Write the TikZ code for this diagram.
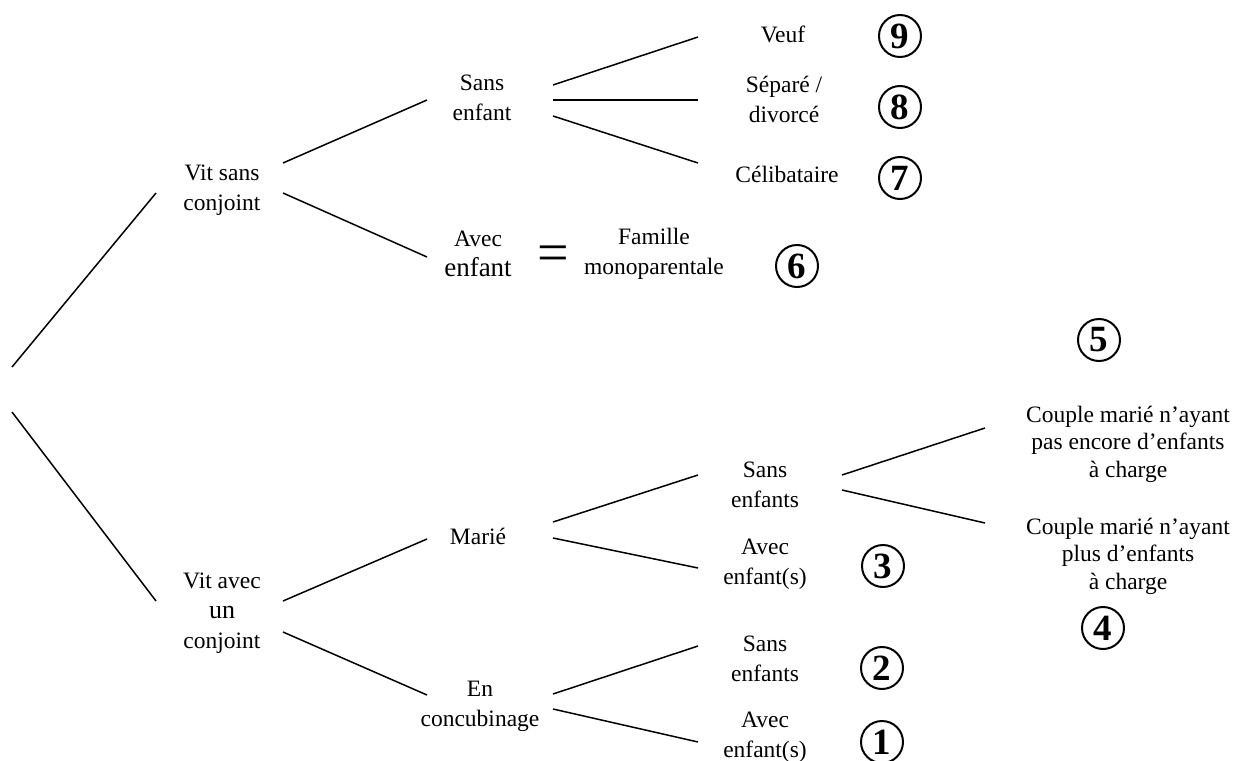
\documentclass[tikz,border=0pt]{standalone}
\usepackage{fontspec}
\setmainfont{Liberation Serif}
\begin{document}
\begin{tikzpicture}[x=1pt,y=-1pt,
  conn/.style={line width=1.5pt},
  lbl/.style={align=center, font=\fontsize{23.5}{30}\selectfont, inner sep=0pt},
  couple/.style={align=center, font=\fontsize{23.5}{27.5}\selectfont, inner sep=0pt},
  num/.style={circle, draw, line width=2pt, minimum size=42pt, inner sep=0pt, font=\fontsize{37}{37}\selectfont\bfseries}]
\useasboundingbox (0,0) rectangle (1236,760);
\fill[white] (0,0) rectangle (1236,760);

% ---- text nodes ----
\node[lbl] (vsc) at (222,190) {Vit sans\\conjoint};
\node[lbl] (vac) at (222,613) {Vit avec\\{\fontsize{26}{30}\selectfont un}\\conjoint};

\node[lbl] (se) at (482,98) {Sans\\enfant};
\node[lbl] (ae) at (478,254) {Avec\\{\fontsize{27}{30}\selectfont enfant}};
\node[font=\fontsize{56}{56}\selectfont, inner sep=0pt] (eq) at (553,259) {=};
\node[lbl] (fm) at (654,254) {Famille\\monoparentale};

\node[lbl] (veuf) at (783,34) {Veuf};
\node[lbl] (sep) at (784,99) {Séparé /\\divorcé};
\node[lbl] (celib) at (787,174) {Célibataire};

\node[lbl] (ma) at (478,536) {Marié};
\node[lbl] (ec) at (480,706) {En\\concubinage};

\node[lbl] (mse) at (765,485) {Sans\\enfants};
\node[lbl] (mae) at (765,564) {Avec\\enfant(s)};
\node[lbl] (cse) at (765,659) {Sans\\enfants};
\node[lbl] (cae) at (765,737) {Avec\\enfant(s)};

\node[couple] (c1) at (1128,444) {Couple marié n’ayant\\pas encore d’enfants\\à charge};
\node[couple] (c2) at (1128,556) {Couple marié n’ayant\\plus d’enfants\\à charge};

% ---- circled numbers ----
\node[num] (n9) at (900,36) {9};
\node[num] (n8) at (900,107) {8};
\node[num] (n7) at (900,178) {7};
\node[num] (n6) at (797,266) {6};
\node[num] (n5) at (1099,340) {5};
\node[num] (n4) at (1103,628) {4};
\node[num] (n3) at (883,566) {3};
\node[num] (n2) at (882,668) {2};
\node[num] (n1) at (882,742) {1};

% ---- connector end points ----
\coordinate (r1) at (12,367);   \coordinate (r2) at (12,412);
\coordinate (vsc-in) at (156,193);
\coordinate (vac-in) at (156,601);
\coordinate (vsc-o1) at (283,163); \coordinate (se-in) at (427,100);
\coordinate (vsc-o2) at (283,193); \coordinate (ae-in) at (427,257);
\coordinate (se-o1) at (553,85);  \coordinate (veuf-in) at (698,37);
\coordinate (se-o2) at (553,100); \coordinate (sep-in) at (698,100);
\coordinate (se-o3) at (553,116); \coordinate (celib-in) at (698,163);
\coordinate (vac-o1) at (283,601); \coordinate (ma-in) at (427,539);
\coordinate (vac-o2) at (283,632); \coordinate (ec-in) at (427,695);
\coordinate (ma-o1) at (553,522); \coordinate (mse-in) at (698,475);
\coordinate (ma-o2) at (553,538); \coordinate (mae-in) at (698,568);
\coordinate (ec-o1) at (553,694); \coordinate (cse-in) at (698,646);
\coordinate (ec-o2) at (553,709); \coordinate (cae-in) at (698,742);
\coordinate (mse-o1) at (842,475); \coordinate (c1-in) at (985,428);
\coordinate (mse-o2) at (842,490); \coordinate (c2-in) at (985,523);

% ---- connectors ----
\draw[conn] (r1) -- (vsc-in);
\draw[conn] (r2) -- (vac-in);
\draw[conn] (vsc-o1) -- (se-in);
\draw[conn] (vsc-o2) -- (ae-in);
\draw[conn] (se-o1) -- (veuf-in);
\draw[conn] (se-o2) -- (sep-in);
\draw[conn] (se-o3) -- (celib-in);
\draw[conn] (vac-o1) -- (ma-in);
\draw[conn] (vac-o2) -- (ec-in);
\draw[conn] (ma-o1) -- (mse-in);
\draw[conn] (ma-o2) -- (mae-in);
\draw[conn] (ec-o1) -- (cse-in);
\draw[conn] (ec-o2) -- (cae-in);
\draw[conn] (mse-o1) -- (c1-in);
\draw[conn] (mse-o2) -- (c2-in);
\end{tikzpicture}
\end{document}
